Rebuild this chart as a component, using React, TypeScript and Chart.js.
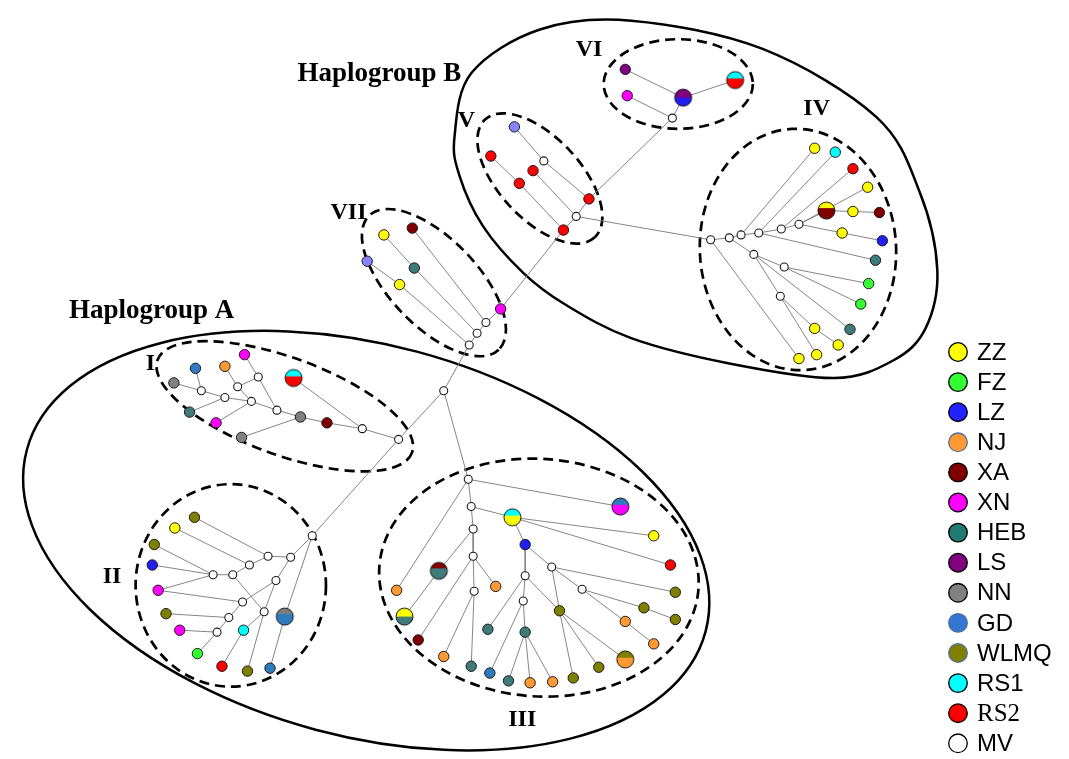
import { useEffect, useRef } from 'react';
import { Chart, registerables } from 'chart.js';

Chart.register(...registerables);

const W = 1069;
const H = 759;

// populations and their colours (LP = unlabelled lavender haplotype)
const populations = ['ZZ', 'FZ', 'LZ', 'NJ', 'XA', 'XN', 'HEB', 'LS', 'NN', 'GD', 'WLMQ', 'RS1', 'RS2', 'MV', 'LP'];
const popColors = ['#ffff00', '#33ff33', '#1f1ff0', '#ff9933', '#800000', '#ff00ff', '#3f7b79', '#800080', '#808080', '#2f7bbf', '#808000', '#00ffff', '#ff0000', '#ffffff', '#8484ff'];

// legend
const legendLabels = ['ZZ', 'FZ', 'LZ', 'NJ', 'XA', 'XN', 'HEB', 'LS', 'NN', 'GD', 'WLMQ', 'RS1', 'RS2', 'MV'];
const legendColors = ['#ffff00', '#33ff33', '#2222ff', '#ff9933', '#800000', '#ff00ff', '#1f7a72', '#800080', '#808080', '#3377d0', '#808000', '#00ffff', '#ff0000', '#ffffff'];
const legendBorders = ['#000', '#000', '#000', '#5070a0', '#000', '#000', '#000', '#000', '#000', '#5070a0', '#5070a0', '#000', '#000', '#000'];
const legendSerif = [false, false, false, false, false, false, false, false, false, false, false, false, true, false];

type NodeRow = [string, number, number, string];
type MixedRow = [string, number, number, string, string, number];
type EdgeRow = [string, string];

// haplotype nodes: id, x, y, population
const nodesVI: NodeRow[] = [
  ['vi1', 627, 61, 'LS'], ['vi2', 629, 88, 'XN'], ['vi0', 675, 111, 'MV'],
];
const nodesV: NodeRow[] = [
  ['v1', 514, 120, 'LP'], ['v0a', 544, 155, 'MV'], ['v2', 490, 150, 'RS2'], ['v3', 533, 165, 'RS2'],
  ['v4', 519, 178, 'RS2'], ['v5', 590, 194, 'RS2'], ['v0b', 577, 212, 'MV'], ['v6', 564, 226, 'RS2'],
];
const nodesIV: NodeRow[] = [
  ['iv0a', 714, 236, 'MV'], ['iv0b', 733, 234, 'MV'], ['iv0c', 745, 231, 'MV'], ['iv0d', 763, 229, 'MV'],
  ['iv0e', 786, 225, 'MV'], ['iv0f', 804, 220, 'MV'], ['iv0g', 758, 251, 'MV'], ['iv0h', 789, 264, 'MV'],
  ['iv0i', 785, 294, 'MV'],
  ['iv1', 820, 142, 'ZZ'], ['iv2', 841, 146, 'RS1'], ['iv3', 859, 163, 'RS2'], ['iv4', 874, 182, 'ZZ'],
  ['iv6', 859, 207, 'ZZ'], ['iv7', 886, 208, 'XA'], ['iv8', 848, 229, 'ZZ'], ['iv9', 889, 237, 'LZ'],
  ['iv10', 882, 257, 'HEB'], ['iv11', 875, 281, 'FZ'], ['iv12', 867, 302, 'FZ'], ['iv13', 856, 328, 'HEB'],
  ['iv14', 820, 327, 'ZZ'], ['iv15', 844, 344, 'ZZ'], ['iv16', 822, 354, 'ZZ'], ['iv17', 804, 358, 'ZZ'],
];
const nodesVII: NodeRow[] = [
  ['vii1', 500, 307, 'XN'], ['vii0a', 485, 321, 'MV'], ['vii0b', 476, 332, 'MV'], ['vii0c', 468, 344, 'MV'],
  ['vii2', 410, 224, 'XA'], ['vii3', 381, 231, 'ZZ'], ['vii4', 412, 265, 'HEB'], ['vii5', 364, 258, 'LP'],
  ['vii6', 397, 282, 'ZZ'], ['t0', 442, 391, 'MV'],
];
const nodesI: NodeRow[] = [
  ['i1', 239, 354, 'XN'], ['i2', 219, 366, 'NJ'], ['i3', 189, 368, 'GD'], ['i5', 167, 383, 'NN'],
  ['i0a', 195, 391, 'MV'], ['i0b', 232, 387, 'MV'], ['i0c', 253, 377, 'MV'], ['i0d', 219, 398, 'MV'],
  ['i0e', 246, 402, 'MV'], ['i6', 183, 413, 'HEB'], ['i0f', 272, 411, 'MV'], ['i7', 296, 418, 'NN'],
  ['i8', 323, 424, 'XA'], ['i0g', 359, 430, 'MV'], ['i0h', 396, 441, 'MV'], ['i9', 210, 424, 'XN'],
  ['i10', 236, 439, 'NN'],
];
const nodesII: NodeRow[] = [
  ['ii0a', 308, 540, 'MV'], ['ii0b', 286, 562, 'MV'], ['ii0c', 263, 561, 'MV'], ['ii0d', 244, 570, 'MV'],
  ['ii0e', 227, 580, 'MV'], ['ii0f', 207, 580, 'MV'], ['ii0g', 271, 586, 'MV'], ['ii0h', 237, 608, 'MV'],
  ['ii0i', 259, 618, 'MV'], ['ii0j', 223, 624, 'MV'], ['ii0k', 211, 639, 'MV'],
  ['ii1', 188, 521, 'WLMQ'], ['ii2', 168, 532, 'ZZ'], ['ii3', 147, 549, 'WLMQ'], ['ii4', 145, 570, 'LZ'],
  ['ii5', 151, 596, 'XN'], ['ii6', 159, 620, 'WLMQ'], ['ii7', 173, 637, 'XN'], ['ii8', 191, 661, 'FZ'],
  ['ii9', 216, 674, 'RS2'], ['ii10', 242, 679, 'WLMQ'], ['ii11', 265, 676, 'GD'], ['ii12', 238, 637, 'RS1'],
];
const nodesIII: NodeRow[] = [
  ['iii0a', 467, 482, 'MV'], ['iii0b', 470, 510, 'MV'], ['iii0c', 472, 533, 'MV'], ['iii0d', 472, 561, 'MV'],
  ['iii0e', 473, 597, 'MV'], ['iii0f', 525, 581, 'MV'], ['iii0g', 523, 607, 'MV'], ['iii0h', 552, 572, 'MV'],
  ['iii0i', 583, 595, 'MV'],
  ['iii7', 525, 549, 'LZ'], ['iii12', 560, 617, 'WLMQ'], ['iii14', 656, 540, 'ZZ'], ['iii15', 673, 570, 'RS2'],
  ['iii16', 678, 598, 'WLMQ'], ['iii17', 646, 614, 'WLMQ'], ['iii18', 678, 626, 'WLMQ'], ['iii19', 627, 628, 'NJ'],
  ['iii20', 656, 651, 'NJ'], ['iii22', 600, 675, 'WLMQ'], ['iii23', 574, 686, 'WLMQ'], ['iii24', 553, 690, 'NJ'],
  ['iii25', 530, 691, 'NJ'], ['iii26', 508, 689, 'HEB'], ['iii27', 525, 639, 'HEB'], ['iii28', 489, 681, 'GD'],
  ['iii29', 487, 636, 'HEB'], ['iii30', 470, 674, 'HEB'], ['iii31', 442, 664, 'NJ'], ['iii32', 416, 647, 'XA'],
  ['iii33', 495, 592, 'NJ'], ['iii36', 394, 596, 'NJ'],
];
// shared haplotypes: id, x, y, top population, bottom population, top share
const mixedNodes: MixedRow[] = [
  ['vi3', 686, 90, 'LS', 'LZ', 0.5],
  ['vi4', 739, 72, 'RS1', 'RS2', 0.4],
  ['iv5', 832, 206, 'ZZ', 'XA', 0.35],
  ['i4', 289, 378, 'RS1', 'RS2', 0.4],
  ['ii13', 280, 623, 'NN', 'GD', 0.35],
  ['iii6', 512, 521, 'RS1', 'ZZ', 0.4],
  ['iii13', 622, 510, 'GD', 'XN', 0.4],
  ['iii21', 627, 667, 'WLMQ', 'NJ', 0.4],
  ['iii34', 437, 576, 'XA', 'HEB', 0.35],
  ['iii35', 402, 623, 'ZZ', 'HEB', 0.5],
];

// network links
const edgesB: EdgeRow[] = [
  ['vi1', 'vi3'], ['vi2', 'vi0'], ['vi3', 'vi4'], ['vi3', 'vi0'], ['vi0', 'v5'],
  ['v1', 'v0a'], ['v0a', 'v5'], ['v2', 'v4'], ['v4', 'v6'], ['v3', 'v0b'], ['v5', 'v0b'], ['v0b', 'v6'], ['v0b', 'iv0a'],
];
const edgesIV: EdgeRow[] = [
  ['iv0a', 'iv0b'], ['iv0b', 'iv0c'], ['iv0c', 'iv0d'], ['iv0d', 'iv0e'], ['iv0e', 'iv0f'], ['iv0f', 'iv5'],
  ['iv5', 'iv6'], ['iv6', 'iv7'], ['iv0c', 'iv1'], ['iv0d', 'iv2'], ['iv0e', 'iv3'], ['iv0f', 'iv4'],
  ['iv0f', 'iv8'], ['iv8', 'iv9'], ['iv0d', 'iv10'], ['iv0b', 'iv0g'], ['iv0g', 'iv0h'], ['iv0h', 'iv11'],
  ['iv0h', 'iv12'], ['iv0g', 'iv13'], ['iv0g', 'iv0i'], ['iv0i', 'iv14'], ['iv14', 'iv15'], ['iv0i', 'iv16'],
  ['iv0a', 'iv17'],
];
const edgesVII: EdgeRow[] = [
  ['v6', 'vii1'], ['vii1', 'vii0a'], ['vii0a', 'vii0b'], ['vii0b', 'vii0c'], ['vii2', 'vii0a'], ['vii3', 'vii4'],
  ['vii4', 'vii0b'], ['vii5', 'vii6'], ['vii6', 'vii0c'], ['vii0c', 't0'], ['t0', 'i0h'], ['t0', 'iii0a'],
];
const edgesI: EdgeRow[] = [
  ['i3', 'i0a'], ['i5', 'i0a'], ['i0a', 'i0d'], ['i0d', 'i0e'], ['i0e', 'i0f'], ['i0f', 'i7'], ['i7', 'i8'],
  ['i8', 'i0g'], ['i0g', 'i0h'], ['i2', 'i0b'], ['i0b', 'i0e'], ['i1', 'i0c'], ['i0c', 'i0f'], ['i0b', 'i0c'],
  ['i6', 'i0d'], ['i9', 'i0e'], ['i10', 'i7'], ['i4', 'i0g'], ['i0h', 'ii0a'],
];
const edgesII: EdgeRow[] = [
  ['ii1', 'ii0c'], ['ii0c', 'ii0b'], ['ii0b', 'ii0a'], ['ii2', 'ii0d'], ['ii0d', 'ii0c'], ['ii3', 'ii0f'],
  ['ii4', 'ii0f'], ['ii0f', 'ii0e'], ['ii0e', 'ii0d'], ['ii5', 'ii0f'], ['ii5', 'ii0h'], ['ii6', 'ii0j'],
  ['ii7', 'ii0k'], ['ii8', 'ii0k'], ['ii0k', 'ii0j'], ['ii0j', 'ii0h'], ['ii0h', 'ii0g'], ['ii0g', 'ii0b'],
  ['ii0e', 'ii0i'], ['ii9', 'ii12'], ['ii12', 'ii0i'], ['ii10', 'ii0i'], ['ii0i', 'ii0g'], ['ii11', 'ii13'],
  ['ii13', 'ii0a'],
];
const edgesIII: EdgeRow[] = [
  ['iii0a', 'iii13'], ['iii0a', 'iii0b'], ['iii0b', 'iii0c'], ['iii0c', 'iii0d'], ['iii0d', 'iii0e'],
  ['iii0e', 'iii30'], ['iii0a', 'iii36'], ['iii0b', 'iii6'], ['iii6', 'iii14'], ['iii6', 'iii15'], ['iii6', 'iii7'],
  ['iii7', 'iii0f'], ['iii0f', 'iii0g'], ['iii0g', 'iii27'], ['iii27', 'iii26'], ['iii27', 'iii25'], ['iii27', 'iii24'],
  ['iii0g', 'iii28'], ['iii0f', 'iii29'], ['iii0f', 'iii12'], ['iii7', 'iii0h'], ['iii0h', 'iii12'], ['iii0h', 'iii16'],
  ['iii0h', 'iii0i'], ['iii0i', 'iii17'], ['iii17', 'iii18'], ['iii0i', 'iii19'], ['iii19', 'iii20'],
  ['iii12', 'iii21'], ['iii12', 'iii22'], ['iii12', 'iii23'], ['iii0c', 'iii34'], ['iii34', 'iii35'],
  ['iii0d', 'iii32'], ['iii0d', 'iii33'], ['iii0e', 'iii31'],
];

// Haplogroup B outline (egg-shaped), traced clockwise
const outlineBX = [633, 767, 883, 927, 945, 933, 900, 840, 733, 633, 565, 523, 482, 458, 453, 470, 540];
const outlineBY = [11, 40, 110, 187, 267, 327, 360, 378, 363, 337, 302, 270, 222, 170, 130, 65, 20];

// cluster outlines: cx, cy, rx, ry, rotation (deg), dashed
const ellipses: [number, number, number, number, number, boolean][] = [
  [363, 545, 358, 201, 15, false],
  [681, 76, 76, 46, 0, true],
  [540, 173, 82, 42, 47, true],
  [432, 280, 95, 45, 46, true],
  [803, 246, 100, 124, -3, true],
  [280, 407, 138, 50, 20, true],
  [225, 591, 97, 104, 0, true],
  [539, 583, 163, 122, 4, true],
];

// text labels: text, x, baseline y, align, size
const groupLabels: [string, number, number, CanvasTextAlign, number][] = [
  ['Haplogroup B', 293, 73, 'left', 27],
  ['Haplogroup A', 60, 316, 'left', 27],
  ['VI', 590, 47, 'center', 24],
  ['V', 465, 120, 'center', 24],
  ['VII', 345, 215, 'center', 24],
  ['IV', 822, 108, 'center', 24],
  ['I', 143, 370, 'center', 24],
  ['II', 104, 589, 'center', 24],
  ['III', 522, 735, 'center', 24],
];

function colorOf(pop: string) {
  const i = populations.indexOf(pop);
  return i >= 0 ? popColors[i] : '#ccc';
}

function makeMixed(top: string, bottom: string, frac: number, r: number) {
  const c = document.createElement('canvas');
  const s = Math.ceil(r * 2 + 4);
  c.width = s;
  c.height = s;
  const g = c.getContext('2d')!;
  const m = s / 2;
  g.save();
  g.beginPath();
  g.arc(m, m, r, 0, Math.PI * 2);
  g.clip();
  g.fillStyle = bottom;
  g.fillRect(0, 0, s, s);
  g.fillStyle = top;
  g.fillRect(0, 0, s, m - r + 2 * r * frac);
  g.restore();
  g.beginPath();
  g.arc(m, m, r, 0, Math.PI * 2);
  g.lineWidth = 1;
  g.strokeStyle = '#111';
  g.stroke();
  return c;
}

const ellipsePlugin = {
  id: 'clusterEllipses',
  beforeDatasetsDraw(chart: any) {
    const { ctx, scales } = chart;
    const xs = scales.x;
    const ys = scales.y;
    ctx.save();
    ctx.strokeStyle = '#000';
    // closed smooth outline of Haplogroup B
    const pts = outlineBX.map((x, i) => [xs.getPixelForValue(x), ys.getPixelForValue(outlineBY[i])]);
    const n = pts.length;
    ctx.beginPath();
    ctx.moveTo(pts[0][0], pts[0][1]);
    for (let i = 0; i < n; i++) {
      const p0 = pts[(i - 1 + n) % n];
      const p1 = pts[i];
      const p2 = pts[(i + 1) % n];
      const p3 = pts[(i + 2) % n];
      ctx.bezierCurveTo(
        p1[0] + (p2[0] - p0[0]) / 6, p1[1] + (p2[1] - p0[1]) / 6,
        p2[0] - (p3[0] - p1[0]) / 6, p2[1] - (p3[1] - p1[1]) / 6,
        p2[0], p2[1],
      );
    }
    ctx.closePath();
    ctx.setLineDash([]);
    ctx.lineWidth = 2.5;
    ctx.stroke();

    ellipses.forEach(([cx, cy, rx, ry, rot, dashed]) => {
      const px = xs.getPixelForValue(cx);
      const py = ys.getPixelForValue(cy);
      const prx = Math.abs(xs.getPixelForValue(cx + rx) - px);
      const pry = Math.abs(ys.getPixelForValue(cy + ry) - py);
      ctx.beginPath();
      ctx.ellipse(px, py, prx, pry, (rot * Math.PI) / 180, 0, Math.PI * 2);
      ctx.setLineDash(dashed ? [10, 6] : []);
      ctx.lineWidth = dashed ? 2.7 : 2.5;
      ctx.stroke();
    });
    ctx.restore();
  },
};

const textPlugin = {
  id: 'textAndLegend',
  afterDraw(chart: any) {
    const { ctx, scales } = chart;
    const xs = scales.x;
    const ys = scales.y;
    ctx.save();
    ctx.fillStyle = '#000';
    ctx.textBaseline = 'alphabetic';
    groupLabels.forEach(([t, x, y, align, size]) => {
      ctx.font = `bold ${size}px "Liberation Serif", "Times New Roman", serif`;
      ctx.textAlign = align;
      ctx.fillText(t, xs.getPixelForValue(x), ys.getPixelForValue(y));
    });
    // legend
    const lx = 958;
    const ly0 = 352;
    const step = 30.1;
    legendLabels.forEach((lab, i) => {
      const y = ly0 + i * step;
      ctx.beginPath();
      ctx.arc(lx, y, 9.3, 0, Math.PI * 2);
      ctx.fillStyle = legendColors[i];
      ctx.fill();
      ctx.lineWidth = 1.3;
      ctx.strokeStyle = legendBorders[i];
      ctx.stroke();
      ctx.fillStyle = '#000';
      ctx.textAlign = 'left';
      ctx.textBaseline = 'middle';
      ctx.font = legendSerif[i] ? '25px "Liberation Serif", serif' : '24px "Liberation Sans", Arial, sans-serif';
      ctx.fillText(lab, 977, y + 1);
    });
    ctx.restore();
  },
};

export default function App() {
  const ref = useRef<HTMLCanvasElement | null>(null);

  useEffect(() => {
    if (!ref.current) return;
    const allNodes: NodeRow[] = [...nodesVI, ...nodesV, ...nodesIV, ...nodesVII, ...nodesI, ...nodesII, ...nodesIII];
    const pos = new Map<string, { x: number; y: number }>();
    allNodes.forEach(([id, x, y]) => pos.set(id, { x, y }));
    mixedNodes.forEach(([id, x, y]) => pos.set(id, { x, y }));

    const allEdges: EdgeRow[] = [...edgesB, ...edgesIV, ...edgesVII, ...edgesI, ...edgesII, ...edgesIII];
    const edgeData: any[] = [];
    allEdges.forEach(([a, b]) => {
      const p = pos.get(a);
      const q = pos.get(b);
      if (!p || !q) return;
      edgeData.push({ x: p.x, y: p.y }, { x: q.x, y: q.y }, { x: q.x, y: null });
    });

    const datasets: any[] = [
      {
        label: 'links',
        data: edgeData,
        showLine: true,
        spanGaps: false,
        borderColor: '#858585',
        borderWidth: 1,
        pointRadius: 0,
        order: 3,
      },
    ];
    populations.forEach((pop) => {
      const pts = allNodes.filter((n) => n[3] === pop).map(([, x, y]) => ({ x, y }));
      if (!pts.length) return;
      const isMV = pop === 'MV';
      datasets.push({
        label: pop,
        data: pts,
        backgroundColor: colorOf(pop),
        borderColor: '#1a1a1a',
        borderWidth: isMV ? 1.1 : 1,
        pointRadius: isMV ? 4 : 5.2,
        pointStyle: 'circle',
        order: 2,
      });
    });
    datasets.push({
      label: 'shared',
      data: mixedNodes.map(([, x, y]) => ({ x, y })),
      pointStyle: mixedNodes.map(([, , , t, b, f]) => makeMixed(colorOf(t), colorOf(b), f, 8.5)),
      pointRadius: 9,
      order: 1,
    });

    const chart = new Chart(ref.current, {
      type: 'scatter',
      data: { datasets },
      options: {
        responsive: false,
        animation: false,
        events: [],
        layout: { padding: 0 },
        plugins: { legend: { display: false }, tooltip: { enabled: false } },
        scales: {
          x: { type: 'linear', min: 0, max: W, display: false },
          y: { type: 'linear', min: 0, max: H, reverse: true, display: false },
        },
      },
      plugins: [ellipsePlugin, textPlugin],
    } as any);
    return () => chart.destroy();
  }, []);

  return (
    <div style={{ position: 'fixed', left: 0, top: 0, width: W, height: H, background: '#fff' }}>
      <canvas ref={ref} width={W} height={H} style={{ display: 'block' }} />
    </div>
  );
}
